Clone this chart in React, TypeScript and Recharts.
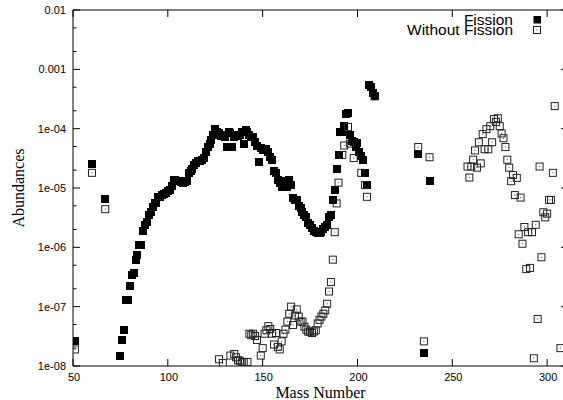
import React from 'react';
import { ScatterChart, Scatter, XAxis, YAxis, Legend, ReferenceArea } from 'recharts';

// ---- data ----
const massFission = [
  51, 60, 67,
  75, 76, 77, 78, 79, 80, 81, 82, 83, 84, 85, 86, 87, 88, 89, 90,
  91, 92, 93, 94, 95, 96, 97, 98, 99, 100, 101, 102, 103, 104, 105, 106,
  107, 108, 109, 110, 111, 112, 113, 114, 115, 116, 117, 118, 119, 120,
  121, 122, 123, 124, 125, 126, 127, 128, 129, 130, 131, 132, 133, 134,
  135, 136, 137, 138, 139, 140, 141, 142, 143, 144, 145, 146, 147, 148,
  149, 150, 151, 152, 153, 154, 155, 156, 157, 158, 159, 160, 161, 162,
  163, 164, 165, 166, 167, 168, 169, 170, 171, 172, 173, 174, 175, 176,
  177, 178, 179, 180, 181, 182, 183, 184, 185, 186, 187, 188, 189, 190,
  191, 192, 193, 194, 195, 196, 197, 198, 199, 200, 201, 202, 203, 204,
  205, 206, 207, 208, 209,
  232, 235, 238,
];
const abundFission = [
  2.6e-8, 2.5e-5, 6.5e-6,
  1.5e-8, 2.7e-8, 4.0e-8, 1.3e-7, 1.3e-7, 2.2e-7, 3.4e-7, 3.7e-7, 6.2e-7, 7.4e-7, 1.1e-6, 1.1e-6, 1.9e-6, 2.4e-6, 2.7e-6, 3.5e-6,
  4.0e-6, 4.8e-6, 5.6e-6, 5.6e-6, 7.1e-6, 7.1e-6, 7.6e-6, 7.9e-6, 8.3e-6, 8.9e-6, 9.3e-6, 1.1e-5, 1.35e-5, 1.35e-5, 1.3e-5, 1.3e-5,
  1.26e-5, 1.23e-5, 1.26e-5, 1.3e-5, 1.8e-5, 1.9e-5, 2.1e-5, 2.4e-5, 2.6e-5, 2.8e-5, 2.8e-5, 3.0e-5, 3.2e-5, 4.0e-5,
  5.0e-5, 5.6e-5, 6.5e-5, 7.9e-5, 9.8e-5, 8.9e-5, 8.3e-5, 7.6e-5, 7.9e-5, 7.2e-5, 5.0e-5, 8.9e-5, 8.3e-5, 5.0e-5,
  7.2e-5, 7.9e-5, 7.6e-5, 7.9e-5, 8.9e-5, 5.6e-5, 9.5e-5, 8.7e-5, 7.9e-5, 7.2e-5, 7.2e-5, 6.0e-5, 5.2e-5, 2.75e-5,
  4.8e-5, 4.4e-5, 4.5e-5, 4.5e-5, 4.0e-5, 3.3e-5, 2.95e-5, 1.9e-5, 1.8e-5, 1.35e-5, 1.2e-5, 1.05e-5, 1.12e-5, 1.3e-5,
  1.05e-5, 1.35e-5, 1.12e-5, 6.8e-6, 6.3e-6, 6.3e-6, 5.0e-6, 4.6e-6, 4.0e-6, 3.5e-6, 3.2e-6, 2.6e-6, 2.4e-6, 2.1e-6,
  1.9e-6, 1.8e-6, 1.74e-6, 1.74e-6, 1.8e-6, 2.0e-6, 2.2e-6, 2.4e-6, 3.2e-6, 3.5e-6, 6.3e-6, 9.3e-6, 2.1e-5, 3.6e-5,
  8.9e-5, 8.9e-5, 1.12e-4, 1.78e-4, 1.82e-4, 7.9e-5, 6.3e-5, 6.0e-5, 5.0e-5, 5.75e-5, 4.0e-5, 3.5e-5, 2.95e-5, 1.8e-5,
  1.12e-5, 5.5e-4, 5.0e-4, 4.0e-4, 3.6e-4,
  3.7e-5, 1.66e-8, 1.3e-5,
];

const massNoFission = [
  51, 60, 67,
  127, 129, 133, 135, 136, 137, 138, 139, 140, 142,
  143, 144, 145, 146, 147, 149, 150, 151, 152, 153, 154, 155, 156, 157, 158, 159, 160,
  161, 162, 163, 164, 165, 166, 167, 168, 169, 170, 171, 172, 173, 174, 175, 176, 177, 178,
  179, 180, 181, 182, 183, 184, 185, 186, 187, 188, 189, 190,
  192, 193, 195, 196, 198, 202, 204, 205, 209,
  232, 235, 238,
  258, 259, 260, 261, 262, 263, 264, 265, 266, 267, 268, 269, 270, 271, 272, 273, 274, 275,
  276, 277, 278, 279, 280, 281, 282, 283, 284, 285, 286, 287, 288, 289, 290, 291, 292, 293,
  294, 295, 296, 297, 298, 299, 300, 301, 302, 303, 304, 307,
];
const abundNoFission = [
  1.9e-8, 1.8e-5, 4.4e-6,
  1.3e-8, 1.12e-8, 1.5e-8, 1.6e-8, 1.4e-8, 1.25e-8, 1.23e-8, 1.15e-8, 1.17e-8, 1.17e-8,
  3.5e-8, 3.3e-8, 3.5e-8, 3.2e-8, 2.75e-8, 1.5e-8, 2.0e-8, 3.5e-8, 4.0e-8, 4.7e-8, 4.2e-8, 3.5e-8, 2.3e-8, 3.6e-8, 2.1e-8, 1.9e-8, 2.6e-8,
  3.5e-8, 4.1e-8, 5.6e-8, 7.6e-8, 1.0e-7, 4.9e-8, 7.1e-8, 9.0e-8, 6.8e-8, 5.6e-8, 5.6e-8, 4.6e-8, 4.1e-8, 3.8e-8, 3.8e-8, 3.6e-8, 3.8e-8, 4.0e-8,
  5.2e-8, 6.0e-8, 6.8e-8, 7.6e-8, 8.7e-8, 1.12e-7, 1.8e-7, 2.6e-7, 6.2e-7, 1.8e-6, 5.5e-6, 1.23e-5,
  3.6e-5, 5.2e-5, 1.07e-4, 5.6e-5, 3.2e-5, 1.8e-5, 1.12e-5, 7.1e-6, 3.5e-4,
  4.9e-5, 2.6e-8, 3.3e-5,
  2.3e-5, 1.5e-5, 2.3e-5, 3.0e-5, 4.3e-5, 2.2e-5, 5.9e-5, 2.6e-5, 8.1e-5, 4.5e-5, 9.8e-5, 4.5e-5, 1.1e-4, 5.9e-5, 1.45e-4, 1.3e-4, 1.5e-4, 1.1e-4,
  8.3e-5, 6.9e-5, 4.9e-5, 3.0e-5, 2.2e-5, 1.3e-5, 1.66e-5, 7.6e-6, 1.48e-5, 1.66e-6, 6.9e-6, 1.15e-6, 2.2e-6, 4.3e-7, 1.8e-6, 4.5e-7, 1.8e-6, 1.35e-8,
  2.4e-6, 6.2e-8, 2.3e-5, 6.8e-7, 3.9e-6, 3.2e-6, 3.7e-6, 6.3e-6, 6.3e-6, 1.8e-5, 2.4e-4, 2.0e-8,
];

const seriesNames = ['Fission', 'Without Fission'];
const xTicks = [50, 100, 150, 200, 250, 300];
const xDomain = [50, 311];
const yMajorTicks = [1e-8, 1e-7, 1e-6, 1e-5, 1e-4, 1e-3, 1e-2];
const yTickLabels = ['1e-08', '1e-07', '1e-06', '1e-05', '1e-04', '0.001', '0.01'];
const yMinorTicks = [2e-8, 5e-8, 2e-7, 5e-7, 2e-6, 5e-6, 2e-5, 5e-5, 2e-4, 5e-4, 2e-3, 5e-3];
const yDomain = [1e-8, 1e-2];

const fissionData = massFission.map((x, i) => ({ x, y: abundFission[i] }));
const noFissionData = massNoFission.map((x, i) => ({ x, y: abundNoFission[i] }));
const yTicks = [...yMajorTicks, ...yMinorTicks].sort((a, b) => a - b);

// ---- layout ----
const CHART_W = 570;
const CHART_H = 400;
const MARGIN = { top: 10, right: 2, bottom: 0, left: 0 };
const Y_AXIS_W = 73;
const X_AXIS_H = 34;
const PLOT_LEFT = MARGIN.left + Y_AXIS_W;
const PLOT_RIGHT = CHART_W - MARGIN.right;
const PLOT_TOP = MARGIN.top;
const PLOT_BOTTOM = CHART_H - MARGIN.bottom - X_AXIS_H;

const SANS = '"Liberation Sans", Arial, Helvetica, sans-serif';
const SERIF = '"Liberation Serif", "Times New Roman", Times, serif';

const XTick = (props: any) => {
  const x = props.payload.coordinate;
  return (
    <g>
      <line x1={x} x2={x} y1={PLOT_BOTTOM} y2={PLOT_BOTTOM - 7} stroke="#000" strokeWidth={1} />
      <line x1={x} x2={x} y1={PLOT_TOP} y2={PLOT_TOP + 7} stroke="#000" strokeWidth={1} />
      <text x={x + 1} y={PLOT_BOTTOM + 11} textAnchor="middle" dominantBaseline="central"
        fontFamily={SANS} fontSize={11} fill="#000">{props.payload.value}</text>
    </g>
  );
};

const YTick = (props: any) => {
  const y = props.payload.coordinate;
  const v = props.payload.value;
  const idx = yMajorTicks.findIndex((m) => Math.abs(m - v) / m < 1e-6);
  const major = idx >= 0;
  const len = major ? 7 : 3.5;
  return (
    <g>
      <line x1={PLOT_LEFT} x2={PLOT_LEFT + len} y1={y} y2={y} stroke="#000" strokeWidth={1} />
      <line x1={PLOT_RIGHT} x2={PLOT_RIGHT - len} y1={y} y2={y} stroke="#000" strokeWidth={1} />
      {major && (
        <text x={PLOT_LEFT - 7} y={y} textAnchor="end" dominantBaseline="central"
          fontFamily={SANS} fontSize={11} fill="#000">{yTickLabels[idx]}</text>
      )}
    </g>
  );
};

const FilledSquare = (props: any) => {
  const { cx, cy } = props;
  if (cx == null || cy == null) return null;
  return <rect x={cx - 4} y={cy - 4} width={8} height={8} fill="#000" shapeRendering="crispEdges" />;
};

const OpenSquare = (props: any) => {
  const { cx, cy } = props;
  if (cx == null || cy == null) return null;
  return (
    <g>
      <rect x={cx - 3.5} y={cy - 3.5} width={7} height={7} fill="none" stroke="#222" strokeWidth={1} />
      <rect x={cx - 0.5} y={cy - 0.5} width={1} height={1} fill="#444" />
    </g>
  );
};

const LegendContent = (props: any) => {
  const payload = props.payload || [];
  const textRight = 513;
  const markX = 537;
  const rows = [25, 35];
  return (
    <div style={{ position: 'relative', height: 0 }}>
      <svg width={CHART_W} height={40} style={{ position: 'absolute', left: 0, top: 0, overflow: 'visible' }}>
        {payload.map((entry: any, i: number) => (
          <g key={i}>
            <text x={textRight} y={rows[i]} textAnchor="end" fontFamily={SANS} fontSize={15.5} fill="#000">
              {entry.value}
            </text>
            {i === 0 ? (
              <rect x={markX - 3.5} y={rows[i] - 9} width={7.5} height={7.5} fill="#000" />
            ) : (
              <g>
                <rect x={markX - 3.5} y={rows[i] - 8.5} width={7} height={7} fill="none" stroke="#222" strokeWidth={1} />
                <rect x={markX - 0.5} y={rows[i] - 5.5} width={1} height={1} fill="#444" />
              </g>
            )}
          </g>
        ))}
      </svg>
    </div>
  );
};

const YTitle = (props: any) => {
  const vb = props.viewBox || { y: PLOT_TOP, height: PLOT_BOTTOM - PLOT_TOP };
  const cx = 18;
  const cy = vb.y + vb.height / 2;
  return (
    <text x={cx} y={cy} transform={`rotate(-90 ${cx} ${cy})`} textAnchor="middle" dominantBaseline="central"
      fontFamily={SERIF} fontSize={16} fill="#000">Abundances</text>
  );
};

const XTitle = (props: any) => {
  const vb = props.viewBox || { x: PLOT_LEFT, width: PLOT_RIGHT - PLOT_LEFT };
  const cx = vb.x + vb.width / 2;
  return (
    <text x={cx} y={CHART_H - 2.5} textAnchor="middle" fontFamily={SERIF} fontSize={16} fill="#000">Mass Number</text>
  );
};

export default function App() {
  return (
    <div style={{ position: 'absolute', left: 0, top: 0, width: 563, height: 400, overflow: 'hidden', background: '#fff' }}>
      <ScatterChart width={CHART_W} height={CHART_H} margin={MARGIN}>
        <XAxis type="number" dataKey="x" domain={xDomain} ticks={xTicks} allowDataOverflow
          height={X_AXIS_H} tick={<XTick />} tickLine={false} axisLine={false} interval={0}
          label={<XTitle />} />
        <YAxis type="number" dataKey="y" scale="log" domain={yDomain} ticks={yTicks} allowDataOverflow
          width={Y_AXIS_W} tick={<YTick />} tickLine={false} axisLine={false} interval={0}
          label={<YTitle />} />
        <Scatter name={seriesNames[0]} data={fissionData} fill="#000" shape={<FilledSquare />} isAnimationActive={false} />
        <Scatter name={seriesNames[1]} data={noFissionData} fill="#222" shape={<OpenSquare />} isAnimationActive={false} />
        <ReferenceArea x1={xDomain[0]} x2={xDomain[1]} y1={yDomain[0]} y2={yDomain[1]}
          fill="none" fillOpacity={0} stroke="#000" strokeWidth={1} strokeOpacity={1} ifOverflow="visible" />
        <Legend verticalAlign="top" align="right" content={<LegendContent />}
          wrapperStyle={{ left: 0, top: 0, width: CHART_W, height: 0 }} />
      </ScatterChart>
    </div>
  );
}
